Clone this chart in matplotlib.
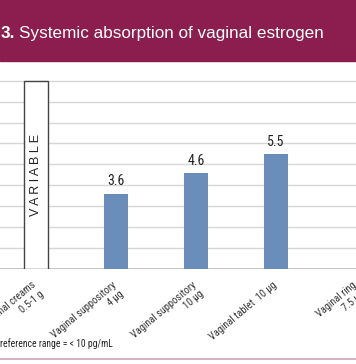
import numpy as np
import matplotlib
matplotlib.use('Agg')
import matplotlib.pyplot as plt
from matplotlib.patches import Rectangle
from matplotlib.transforms import ScaledTranslation

categories = ['Vaginal creams\n0.5-1 g', 'Vaginal suppository\n4 \u03bcg',
              'Vaginal suppository\n10 \u03bcg', 'Vaginal tablet  10 \u03bcg',
              'Vaginal ring\n7.5 \u03bcg']
values = [np.nan, 3.6, 4.6, 5.5, np.nan]
value_labels = ['', '3.6', '4.6', '5.5', '']
variable_top = 9
title_num = '3.'
title = 'Systemic absorption of vaginal estrogen'
footnote = 'reference range = < 10 pg/mL'

narrow = ['Roboto Condensed', 'DejaVu Sans']
regular = ['Liberation Sans', 'DejaVu Sans']

W, H = 356, 364
fig = plt.figure(figsize=(W / 100, H / 100), dpi=100)

# header band
fig.patches.append(Rectangle((0, 1 - 61 / H), 1, 61 / H, transform=fig.transFigure,
                             color='#8B1E4F', zorder=0))
fig.text(15 / W, 1 - 38 / H, title_num, color='white', fontsize=12.3, fontweight='bold',
         ha='right', va='baseline', family=regular)
fig.text(19 / W, 1 - 38 / H, title, color='white', fontsize=12.3,
         ha='left', va='baseline', family=regular)

ax = fig.add_axes([0, (H - 269) / H, 1, (269 - 76.5) / H])
x = np.arange(len(categories))

ax.bar(0, variable_top, width=0.3, facecolor='white', edgecolor='#444444', lw=1, zorder=3)
ax.text(0, variable_top / 2, 'V A R I A B L E', rotation=90, ha='center', va='center',
        fontsize=9, color='#222222', family=regular, zorder=4)

ax.bar(x, values, width=0.3, color='#6A8DBA', zorder=3)
for xi, v, lab in zip(x, values, value_labels):
    if lab:
        ax.text(xi, v + 0.25, lab, ha='center', va='bottom', fontsize=10,
                color='#222222', family=narrow)

ax.set_xlim(-0.446, 3.843)
ax.set_ylim(0, 9.2)
ax.set_yticks(range(10))
ax.grid(axis='y', color='#D6D6D6', lw=1, zorder=0)
ax.axhline(0, color='#BDBDBD', lw=1.2, zorder=2)
for s in ax.spines.values():
    s.set_visible(False)
ax.tick_params(left=False, labelleft=False, bottom=False, pad=4.3)
ax.set_xticks(x)
ax.set_xticklabels(categories, rotation=40, ha='right', va='top', rotation_mode='anchor',
                   fontsize=7.5, color='#333333', family=narrow, linespacing=1.25)
shift = ScaledTranslation(-4 / 100, 0, fig.dpi_scale_trans)
for t in ax.get_xticklabels():
    t.set_clip_on(False)
    t.set_transform(t.get_transform() + shift)

fig.text(0, 1 - 344 / H, footnote, ha='left', va='center', fontsize=6.9,
         color='#222222', family=narrow)
fig.add_artist(plt.Line2D([0, 1], [1 - 359 / H, 1 - 359 / H], transform=fig.transFigure,
                          color='#C9A3B9', lw=1.2))

fig.savefig('out.png', dpi=100)
